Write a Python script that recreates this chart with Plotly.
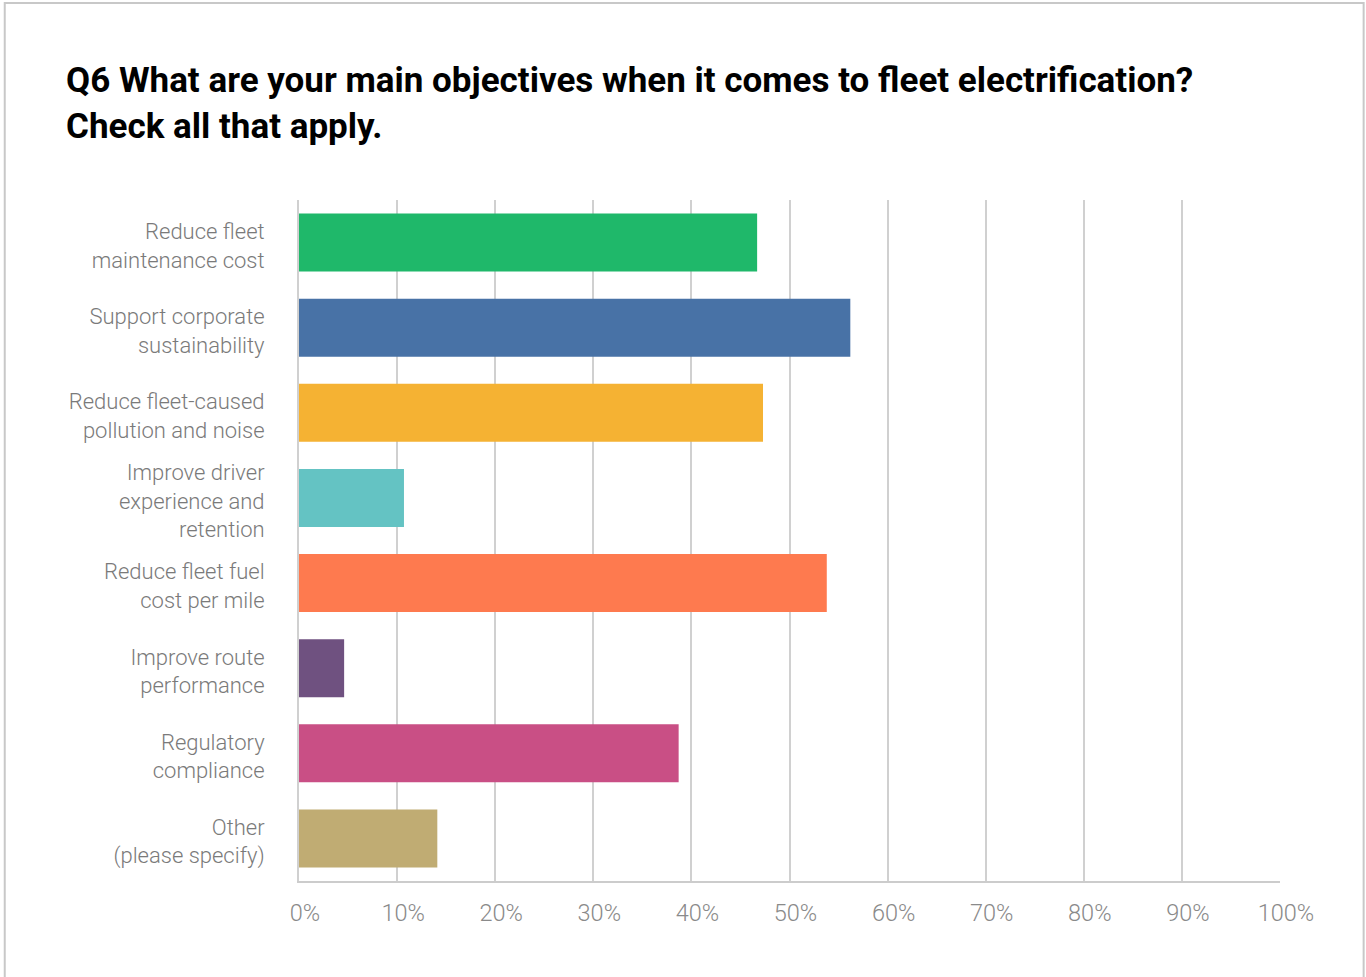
import plotly.graph_objects as go

# Survey answers (share of respondents, %)
categories = [
    "Reduce fleet<br>maintenance cost",
    "Support corporate<br>sustainability",
    "Reduce fleet-caused<br>pollution and noise",
    "Improve driver<br>experience and<br>retention",
    "Reduce fleet fuel<br>cost per mile",
    "Improve route<br>performance",
    "Regulatory<br>compliance",
    "Other<br>(please specify)",
]
values = [46.7, 56.2, 47.3, 10.7, 53.8, 4.6, 38.7, 14.1]
colors = ["#1fb86a", "#4872a6", "#f5b233", "#64c3c3",
          "#fe7a4f", "#6f5180", "#c94f85", "#c0ac73"]
tick_vals = [0, 10, 20, 30, 40, 50, 60, 70, 80, 90, 100]
tick_text = [f"{v}%" for v in tick_vals]

fig = go.Figure(
    go.Bar(
        x=values,
        y=categories,
        orientation="h",
        marker=dict(color=colors, line=dict(width=0)),
        hoverinfo="skip",
    )
)

W, H = 1366, 977
L, R, T, B = 298.5, 85.7, 200, 96
pw, ph = W - L - R, H - T - B

def px_x(x):
    return (x - L) / pw

def px_y(y):
    return (H - B - y) / ph

fig.update_layout(
    width=W,
    height=H,
    margin=dict(l=L, r=R, t=T, b=B, autoexpand=False),
    paper_bgcolor="white",
    plot_bgcolor="white",
    bargap=0.32,
    showlegend=False,
    title=dict(
        text="Q6 What are your main objectives when it comes to fleet electrification?<br>Check all that apply.",
        x=66 / W,
        xanchor="left",
        xref="container",
        y=1 - 92 / H,
        yanchor="top",
        yref="container",
        font=dict(family="Roboto", size=35, color="#000000", weight="bold"),
    ),
    xaxis=dict(
        range=[0, 100],
        tickvals=tick_vals,
        ticktext=tick_text,
        showgrid=True,
        gridcolor="#d0d0d0",
        gridwidth=2,
        zeroline=False,
        showline=True,
        linecolor="#cccccc",
        linewidth=2,
        ticks="",
        ticklabelstandoff=10,
        ticklabelshift=6,
        tickfont=dict(family="Roboto", size=23.5, color="#8a8a8a", weight=300),
        fixedrange=True,
    ),
    yaxis=dict(
        autorange="reversed",
        showgrid=False,
        showline=True,
        linecolor="#d0d0d0",
        linewidth=2,
        ticks="",
        ticklabelstandoff=28,
        ticklabelshift=-3,
        tickfont=dict(family="Roboto", size=22, color="#7a7a7a", weight=300),
        fixedrange=True,
    ),
    shapes=[
        dict(
            type="rect",
            xref="paper",
            yref="paper",
            x0=px_x(4),
            x1=px_x(1364),
            y0=px_y(990),
            y1=px_y(3),
            line=dict(color="#c8c8c8", width=2),
            fillcolor="rgba(0,0,0,0)",
            layer="below",
        )
    ],
)

fig.write_html("out.html", config={"displayModeBar": False})
